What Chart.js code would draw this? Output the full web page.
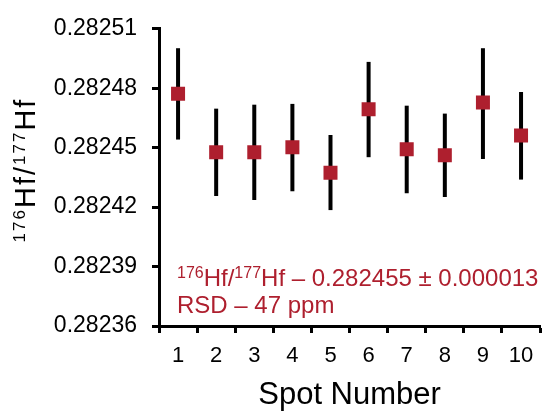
<!DOCTYPE html>
<html>
<head>
<meta charset="utf-8">
<script src="https://cdn.jsdelivr.net/npm/chart.js@4"></script>
<style>
  html, body { margin: 0; padding: 0; background: #fff; overflow: hidden; }
  canvas { display: block; }
</style>
</head>
<body>
<canvas id="hfChart" width="550" height="411"></canvas>
<script>
// Spot-by-spot 176Hf/177Hf ratios with 2SE bars
const spots = ['1', '2', '3', '4', '5', '6', '7', '8', '9', '10'];
const ratios = [0.2824772, 0.2824477, 0.2824477, 0.2824502, 0.2824374, 0.2824694, 0.2824492, 0.2824462, 0.2824728, 0.2824561];
const errHigh = [0.2825002, 0.2824697, 0.2824717, 0.2824721, 0.2824564, 0.2824933, 0.2824712, 0.2824672, 0.2825002, 0.2824781];
const errLow = [0.2824541, 0.2824256, 0.2824236, 0.2824280, 0.2824185, 0.2824452, 0.2824270, 0.2824251, 0.2824443, 0.2824339];
const yTicks = [0.28236, 0.28239, 0.28242, 0.28245, 0.28248, 0.28251];

const RED = '#ae1f2e';
const FONT = "'Liberation Sans', Arial, sans-serif";

// draw vertical error bars under the markers
const errorBars = {
  id: 'errorBars',
  beforeDatasetsDraw(chart) {
    const { ctx, scales: { x, y } } = chart;
    ctx.save();
    ctx.strokeStyle = '#000';
    ctx.lineWidth = 4;
    spots.forEach((s, i) => {
      const px = x.getPixelForValue(i);
      ctx.beginPath();
      ctx.moveTo(px, y.getPixelForValue(errLow[i]));
      ctx.lineTo(px, y.getPixelForValue(errHigh[i]));
      ctx.stroke();
    });
    ctx.restore();
  },
};

// write runs of text with superscripts, left to right
function drawRuns(ctx, runs, x, y, size, supSize, supRise) {
  let cx = x;
  runs.forEach(([text, sup]) => {
    ctx.font = (sup ? supSize : size) + 'px ' + FONT;
    ctx.fillText(text, cx, sup ? y - supRise : y);
    cx += ctx.measureText(text).width;
  });
  return cx - x;
}

function measureRuns(ctx, runs, size, supSize) {
  let w = 0;
  runs.forEach(([text, sup]) => {
    ctx.font = (sup ? supSize : size) + 'px ' + FONT;
    w += ctx.measureText(text).width;
  });
  return w;
}

const labels = {
  id: 'labels',
  afterDraw(chart) {
    const { ctx } = chart;
    ctx.save();
    ctx.textBaseline = 'alphabetic';
    ctx.textAlign = 'left';

    // y axis title, rotated
    const yTitle = [['176', true], ['Hf/', false], ['177', true], ['Hf', false]];
    ctx.save();
    ctx.letterSpacing = '2px';
    const w = measureRuns(ctx, yTitle, 29, 17);
    ctx.translate(35, 170);
    ctx.rotate(-Math.PI / 2);
    ctx.fillStyle = '#000';
    drawRuns(ctx, yTitle, -w / 2, 0, 29, 17, 10);
    ctx.restore();

    // annotation
    ctx.fillStyle = RED;
    const line1 = [['176', true], ['Hf/', false], ['177', true], ['Hf \u2013 0.282455 \u00b1 0.000013', false]];
    drawRuns(ctx, line1, 177, 286, 24, 16, 8);
    ctx.font = '24px ' + FONT;
    ctx.fillText('RSD \u2013 47 ppm', 177, 313);
    ctx.restore();
  },
};

new Chart(document.getElementById('hfChart'), {
  type: 'line',
  data: {
    labels: spots,
    datasets: [{
      data: ratios,
      showLine: false,
      pointStyle: 'rect',
      pointRadius: 9.9,
      pointHoverRadius: 9.9,
      pointBackgroundColor: RED,
      pointBorderWidth: 0,
    }],
  },
  options: {
    responsive: false,
    animation: false,
    events: [],
    layout: { padding: { top: 21, right: 0, left: 0, bottom: 0 } },
    plugins: {
      legend: { display: false },
      tooltip: { enabled: false },
    },
    scales: {
      x: {
        type: 'category',
        offset: true,
        grid: {
          offset: true,
          drawOnChartArea: false,
          drawTicks: true,
          tickLength: 7,
          tickColor: '#000',
          tickWidth: 3,
        },
        border: { display: true, color: '#000', width: 3 },
        ticks: {
          color: '#000',
          font: { family: FONT, size: 22 },
          padding: 10,
          maxRotation: 0,
        },
        title: {
          display: true,
          text: 'Spot Number',
          color: '#000',
          font: { family: FONT, size: 31, lineHeight: 1 },
          padding: { top: 0, bottom: 0 },
        },
        afterFit(scale) { scale.height = 85; },
      },
      y: {
        min: 0.28236,
        max: 0.28251,
        grid: {
          drawOnChartArea: false,
          drawTicks: true,
          tickLength: 7,
          tickColor: '#000',
          tickWidth: 3,
        },
        border: { display: true, color: '#000', width: 3 },
        ticks: {
          color: '#000',
          font: { family: FONT, size: 23 },
          padding: 15,
          callback: v => v.toFixed(5),
        },
        afterBuildTicks(scale) {
          scale.ticks = yTicks.map(v => ({ value: v }));
        },
        afterFit(scale) { scale.width = 159; },
      },
    },
  },
  plugins: [errorBars, labels],
});
</script>
</body>
</html>
